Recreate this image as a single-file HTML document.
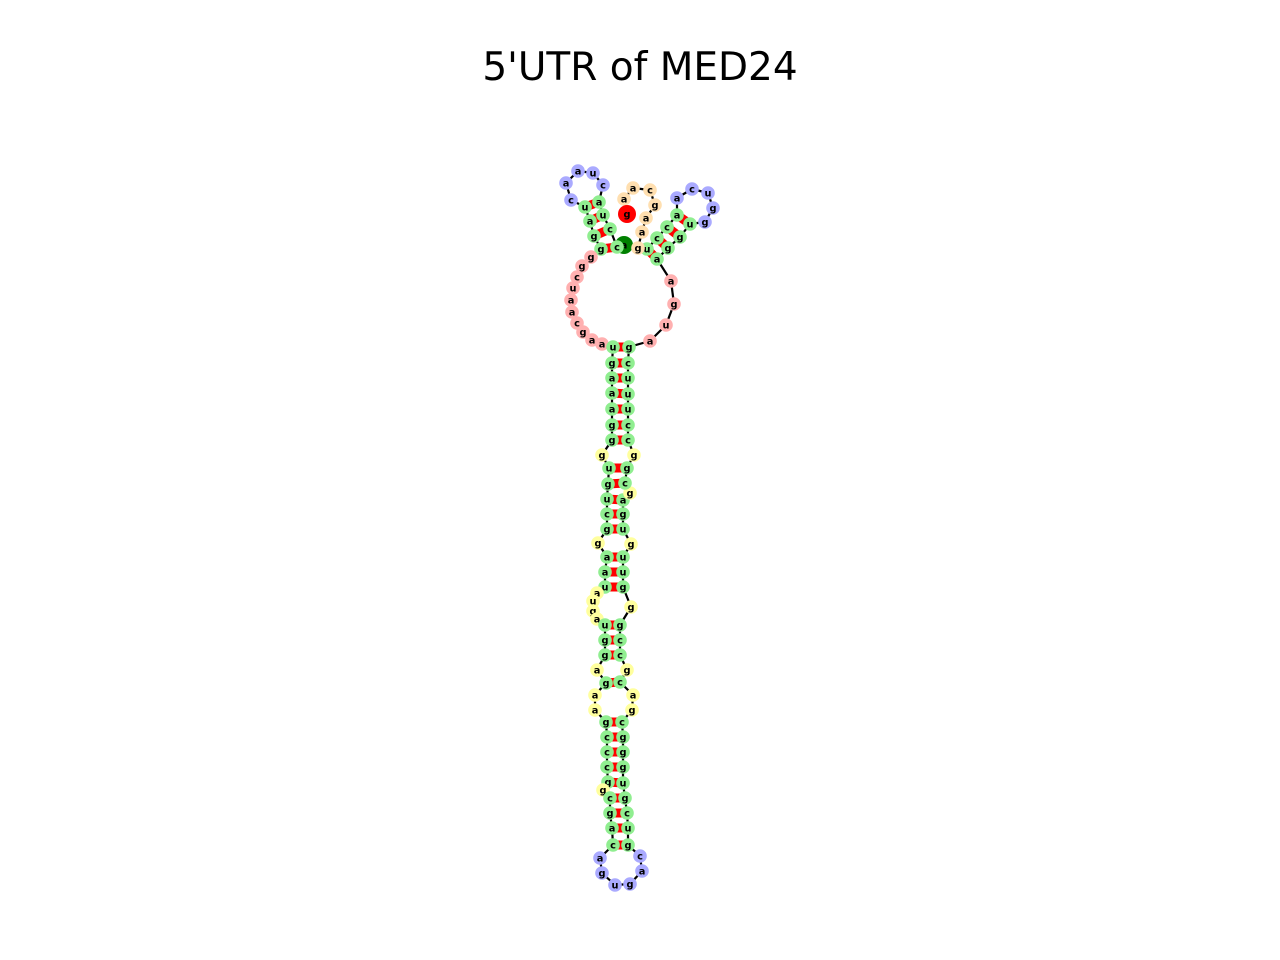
<!DOCTYPE html>
<html><head><meta charset="utf-8"><style>
body{margin:0;background:#fff;}
svg{display:block;}
text{font-family:"DejaVu Sans","Liberation Sans",sans-serif;}
</style></head><body>
<svg id="chart" width="1280" height="960">
<text x="640" y="80" text-anchor="middle" font-size="39">5'UTR of MED24</text>
<g id="bb"></g><g id="pr"></g><g id="nd"></g>
</svg>
<script>
const letters = "accuacuaac"+"uaggggcuaa"+"cgaaugaaag"+"ggugucggaa"+"uaugauggag"+"aagcccggcg"+"acagugacgu"+"cgugggcgac"+"gccggguugu"+"gagcggccuu"+"ucgaugaagg"+"uggucaaccu"+"gaagcaag";
const xs = [624,617,610,603,599,603,593,578,566,571,585,590,594,601,591,582,577,573,571,572,577,583,592,602,613,612,612,612,612,612,612,602,609,608,607,607,607,598,607,605,605,597,593,593,597,605,605,605,597,606,595,595,606,607,607,607,608,603,610,610,612,613,600,602,615,630,642,640,628,628,627,625,623,623,623,623,622,632,633,620,627,620,620,620,631,623,623,623,631,623,623,623,630,625,627,634,628,628,628,628,628,628,629,650,666,674,671,657,668,680,690,705,713,708,692,677,677,667,657,647,638,642,646,655,650,633,624,627];
const ys = [245,247,229,215,202,185,173,171,183,200,207,221,236,249,257,266,277,288,300,312,323,332,340,344,347,363,378,393,409,425,440,455,468,484,499,514,529,543,557,572,587,593,601,611,619,625,640,655,670,683,695,710,722,737,752,767,782,790,798,813,828,845,858,873,885,884,871,856,845,828,813,798,783,767,752,737,722,710,695,682,670,655,640,625,607,587,572,557,544,529,514,500,493,483,468,455,440,425,409,394,378,363,347,341,325,304,281,259,248,237,224,222,208,193,189,198,215,227,238,249,248,232,218,205,190,188,199,214];
const kinds = "SGGGGBBBBBGGGGPPPPPPPPPPGGGGGGGYGGGGGYGGGYYYYGGGYGYYGGGGGYGGGGBBBBBBGGGGGGGGGYYGYGGGYGGGYGGGYGGYGGGGGGGPPPPGGGGBBBBBGGGGTTTTTTTE";
const pairA = [1,2,3,4,24,25,26,27,28,29,30,32,33,34,35,36,38,39,40,45,46,47,49,52,53,54,55,56,58,59,60,61,107,108,109,110];
const pairB = [13,12,11,10,102,101,100,99,98,97,96,94,93,91,90,89,87,86,85,83,82,81,79,76,75,74,73,72,71,70,69,68,119,118,117,116];
const fill = {S:"#008000",G:"#90ee90",B:"#aaaaff",P:"#ffb0b0",Y:"#ffff9e",T:"#ffdfb0",E:"#ff0000"};
const NS="http://www.w3.org/2000/svg";
const bb=document.getElementById('bb'), pr=document.getElementById('pr'), nd=document.getElementById('nd');
function mk(t,a){const e=document.createElementNS(NS,t);for(const k in a)e.setAttribute(k,a[k]);return e;}
for(let i=0;i<xs.length-1;i++){
  const l=mk('line',{x1:xs[i],y1:ys[i],x2:xs[i+1],y2:ys[i+1],stroke:'#000','stroke-width':2.2});
  
  
  bb.appendChild(l);
}
for(let k=0;k<pairA.length;k++){
  const a=pairA[k],b=pairB[k];
  const l=mk('line',{x1:xs[a],y1:ys[a],x2:xs[b],y2:ys[b],stroke:'#ff0000','stroke-width':9});
  
  
  pr.appendChild(l);
}
for(let i=0;i<xs.length;i++){
  const g=mk('g',{});
  
  
  g.appendChild(mk('circle',{cx:xs[i],cy:ys[i],r:(i==0||i==127)?9:6.8,fill:fill[kinds[i]]}));
  const t=mk('text',{x:xs[i],y:ys[i]+3.4,'text-anchor':'middle','font-size':9.8,'font-weight':'bold',fill:'#000'});
  t.textContent=letters[i];
  g.appendChild(t);
  nd.appendChild(g);
}
</script>
</body></html>
